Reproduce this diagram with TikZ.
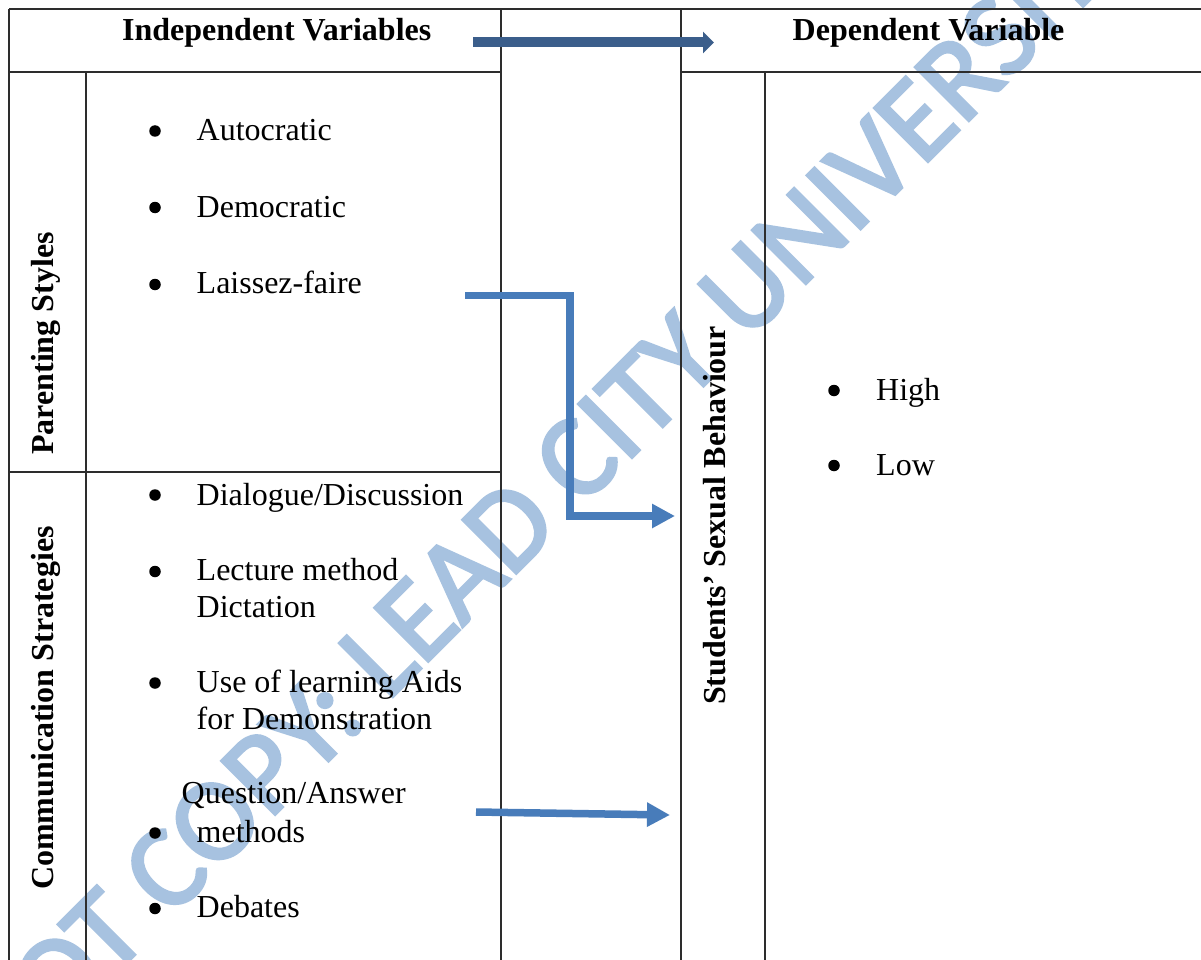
\documentclass[tikz,border=0pt]{standalone}
\usepackage{fontspec}
\setmainfont{Liberation Serif}
\newfontfamily\wmfont[FakeBold=2.5]{Carlito}
\usetikzlibrary{arrows.meta}
\definecolor{hdrblue}{RGB}{59,94,139}
\definecolor{arrblue}{RGB}{72,124,186}
\definecolor{wmblue}{RGB}{167,194,224}
\definecolor{gridc}{RGB}{45,45,45}
\begin{document}
\begin{tikzpicture}[x=1pt,y=-1pt,
  tablerule/.style={draw=gridc,line width=1.6pt},
  item/.style={anchor=base west,inner sep=0pt,font=\fontsize{32}{37}\selectfont},
  headtext/.style={anchor=base west,inner sep=0pt,font=\fontsize{32}{37}\selectfont\bfseries},
  sidelabel/.style={anchor=base west,inner sep=0pt,rotate=90,font=\fontsize{32}{37}\selectfont\bfseries},
  bul/.style={circle,fill=black,inner sep=0pt,minimum size=11.5pt},
  wm/.style={inner sep=0pt,rotate=45,text=wmblue,font=\wmfont\fontsize{118}{118}\selectfont},
  hdrarrow/.style={draw=hdrblue,line width=10pt,-{Triangle[length=11pt,width=21pt]}},
  bluearrow/.style={draw=arrblue,line width=7.5pt,line join=miter,-{Triangle[length=23pt,width=23pt]}}
]
\useasboundingbox[fill=white] (0,0) rectangle (1201,960);

% watermark
\begin{scope}
\clip (0,0) rectangle (1201,960);
\node[wm] (wmark) at (549,487) {NOT COPY: LEAD CITY UNIVERSITY};
\end{scope}

% table rules
\draw[tablerule] (9,9) -- (1201,9);
\draw[tablerule] (9,72) -- (501,72);
\draw[tablerule] (681,72) -- (1201,72);
\draw[tablerule] (9,9) -- (9,960);
\draw[tablerule] (86,72) -- (86,960);
\draw[tablerule] (501,9) -- (501,960);
\draw[tablerule] (681,9) -- (681,960);
\draw[tablerule] (765,72) -- (765,960);
\draw[tablerule] (9,472) -- (501,472);

% headers
\node[headtext] (indep) at (122,40.7) {Independent Variables};
\node[headtext] (dep) at (792.5,40.7) {Dependent Variable};

% side labels
\node[sidelabel] (ps) at (53.5,455) {Parenting Styles};
\node[sidelabel] (cs) at (53.5,890) {Communication Strategies};
\node[sidelabel] (ssb) at (725,705) {Students’ Sexual Behaviour};

% parenting styles
\node[bul] (b1) at (155,131) {};
\node[item] (t1) at (196.5,141) {Autocratic};
\node[bul] (b2) at (155,207.5) {};
\node[item] (t2) at (196.5,217) {Democratic};
\node[bul] (b3) at (155,284.5) {};
\node[item] (t3) at (196.5,293.5) {Laissez-faire};

% communication strategies
\node[bul] (b4) at (155,495) {};
\node[item] (t4) at (196.5,505) {Dialogue/Discussion};
\node[bul] (b5) at (155,571.5) {};
\node[item] (t5a) at (196.5,580) {Lecture method};
\node[item] (t5b) at (196.5,617) {Dictation};
\node[bul] (b6) at (155,683) {};
\node[item] (t6a) at (196.5,692) {Use of learning Aids};
\node[item] (t6b) at (196.5,729) {for Demonstration};
\node[item] (t7a) at (181.5,803.5) {Question/Answer};
\node[bul] (b7) at (155,833) {};
\node[item] (t7b) at (196.5,842) {methods};
\node[bul] (b8) at (155,908.5) {};
\node[item] (t8) at (196.5,917) {Debates};

% dependent items
\node[bul] (b9) at (834,390.5) {};
\node[item] (t9) at (876,400) {High};
\node[bul] (b10) at (834,465.5) {};
\node[item] (t10) at (876,475) {Low};

% arrows
\coordinate (ha1) at (473,42.5);
\coordinate (ha2) at (714,42.5);
\draw[hdrarrow] (ha1) -- (ha2);

\coordinate (ea1) at (465,295.5);
\coordinate (ea2) at (570,516);
\coordinate (ea3) at (675,516);
\draw[bluearrow] (ea1) -| (ea2) -- (ea3);

\coordinate (la1) at (476,812);
\coordinate (la2) at (670,815);
\draw[bluearrow] (la1) -- (la2);
\end{tikzpicture}
\end{document}
